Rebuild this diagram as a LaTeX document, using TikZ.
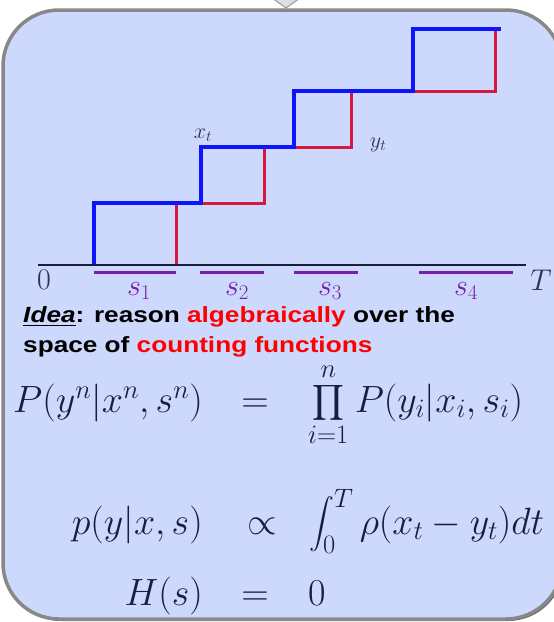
\RequirePackage{fix-cm}
\documentclass[tikz,border=0pt]{standalone}
\usepackage{amsmath}
\usepackage{fontspec}
\newfontfamily\arialfont{Liberation Sans}
\definecolor{boxfill}{RGB}{204,217,252}
\definecolor{boxedge}{RGB}{136,136,136}
\definecolor{axiscol}{RGB}{25,30,60}
\definecolor{labcol}{RGB}{45,50,80}
\definecolor{segcol}{RGB}{120,30,170}
\definecolor{xcol}{RGB}{15,20,255}
\definecolor{ycol}{RGB}{215,25,65}
\definecolor{ideared}{RGB}{255,0,0}
\begin{document}
\begin{tikzpicture}[x=1pt,y=-1pt,
  seg/.style={draw=segcol,line width=3pt},
  seglab/.style={text=segcol,font=\fontsize{30}{34}\selectfont,anchor=base},
  axlab/.style={text=labcol,font=\fontsize{30}{34}\selectfont,anchor=base},
  fnlab/.style={text=labcol,font=\fontsize{22}{26}\selectfont,anchor=base},
  idea/.style={font=\arialfont\bfseries\fontsize{22}{26}\selectfont,anchor=base west,inner sep=0pt,xscale=1.19,transform shape},
  eqn/.style={font=\fontsize{38}{44}\selectfont,text=axiscol,inner sep=0pt}]
\useasboundingbox (0,0) rectangle (554,622);
% arrow tip from above
\filldraw[fill=gray!25,draw=gray!80,line width=1pt] (272,-2) -- (300,-2) -- (286,8) -- cycle;
% shadow and box
\fill[gray!80!black,rounded corners=56pt] (5,12) rectangle (564,621);
\filldraw[fill=boxfill,draw=boxedge,line width=3.5pt,rounded corners=56pt] (3,10) rectangle (562,619);
% staircase
\coordinate (y0) at (176,265);
\coordinate (x0) at (94,265);
\draw[ycol,line width=3pt] (y0) -- (176,203) -- (264,203) -- (264,147) -- (351,147) -- (351,91) -- (495,91) -- (495,29);
\draw[xcol,line width=3.5pt] (x0) -- (94,203) -- (201,203) -- (201,147) -- (294,147) -- (294,91) -- (413,91) -- (413,29) -- (501,29);
% axis
\coordinate (a0) at (38,265);
\coordinate (a1) at (526,265);
\draw[axiscol,line width=2.5pt] (a0) -- (a1);
\node[axlab] (zero) at (44,289) {$0$};
\node[axlab] (tee) at (541,290) {$T$};
% segments
\draw[seg] (94,272) -- (176,272);
\draw[seg] (200,272) -- (264,272);
\draw[seg] (294,272) -- (358,272);
\draw[seg] (419,272) -- (513,272);
\node[seglab] (s1) at (139,295) {$s_1$};
\node[seglab] (s2) at (237,295) {$s_2$};
\node[seglab] (s3) at (330,295) {$s_3$};
\node[seglab] (s4) at (466,295) {$s_4$};
\node[fnlab] (xt) at (203,138) {$x_t$};
\node[fnlab] (yt) at (378,147) {$y_t$};
% idea text
\node[idea] (l1) at (23,322) {\underline{\itshape Idea}: reason \textcolor{ideared}{algebraically} over the};
\node[idea] (l2) at (23,352) {space of \textcolor{ideared}{counting functions}};
% equations
\node[eqn,anchor=base east] (lhs1) at (203,412) {$P(y^n|x^n,s^n)$};
\node[eqn,anchor=base] (r1) at (255,412) {$=$};
\node[eqn,anchor=base west] (rhs1) at (308,412) {$\displaystyle\prod_{i=1}^n P(y_i|x_i,s_i)$};
\node[eqn,anchor=base east] (lhs2) at (203,534) {$p(y|x,s)$};
\node[eqn,anchor=base] (r2) at (262,534) {$\propto$};
\node[eqn,anchor=base west] (rhs2) at (309,534) {$\displaystyle\int_0^T \rho(x_t-y_t)dt$};
\node[eqn,anchor=base east] (lhs3) at (203,605) {$H(s)$};
\node[eqn,anchor=base] (r3) at (255,605) {$=$};
\node[eqn,anchor=base west] (rhs3) at (308,605) {$0$};
\end{tikzpicture}
\end{document}
